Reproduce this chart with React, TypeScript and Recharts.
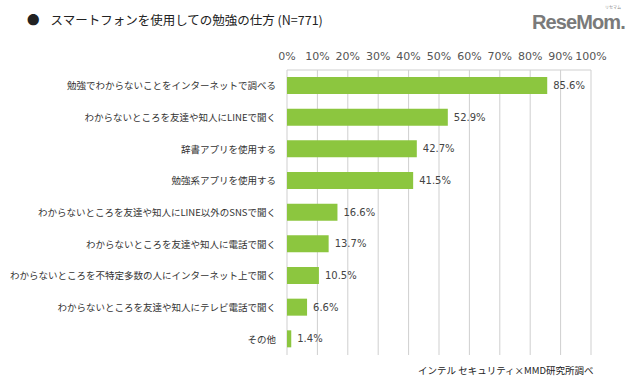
import { Bar, BarChart, CartesianGrid, LabelList, XAxis, YAxis } from 'recharts'

const categories = [
  '勉強でわからないことをインターネットで調べる',
  'わからないところを友達や知人にLINEで聞く',
  '辞書アプリを使用する',
  '勉強系アプリを使用する',
  'わからないところを友達や知人にLINE以外のSNSで聞く',
  'わからないところを友達や知人に電話で聞く',
  'わからないところを不特定多数の人にインターネット上で聞く',
  'わからないところを友達や知人にテレビ電話で聞く',
  'その他',
]
const shares = [85.6, 52.9, 42.7, 41.5, 16.6, 13.7, 10.5, 6.6, 1.4]
const xTicks = [0, 10, 20, 30, 40, 50, 60, 70, 80, 90, 100]

const title = 'スマートフォンを使用しての勉強の仕方 (N=771)'
const source = 'インテル セキュリティ×MMD研究所調べ'

const data = categories.map((name, i) => ({ name, value: shares[i] }))

const jp = '"Noto Sans CJK JP", sans-serif'
const num = '"DejaVu Sans", sans-serif'

export default function App() {
  return (
    <div style={{ position: 'absolute', left: 0, top: 0, width: 640, height: 383, background: '#fff' }}>
      <div style={{ position: 'absolute', left: 27, top: 10, fontFamily: jp, fontSize: 12.5, color: '#222', whiteSpace: 'nowrap' }}>
        <span style={{ marginRight: 11 }}>●</span>
        {title}
      </div>
      <div
        style={{
          position: 'absolute',
          left: 532,
          top: 11,
          fontFamily: '"Liberation Sans", sans-serif',
          fontWeight: 700,
          fontSize: 20,
          lineHeight: '23px',
          color: '#7a7a7a',
          letterSpacing: -0.9,
          whiteSpace: 'nowrap',
        }}
      >
        ReseMom.
      </div>
      <div style={{ position: 'absolute', left: 605, top: 5, fontFamily: jp, fontSize: 4, lineHeight: '5px', color: '#888' }}>
        リセマム
      </div>
      <BarChart
        width={640}
        height={383}
        data={data}
        layout="vertical"
        margin={{ top: 50, right: 49, bottom: 28, left: 0 }}
        barSize={17}
      >
        <CartesianGrid horizontal={false} stroke="#cfcfcf" />
        <XAxis
          type="number"
          orientation="top"
          domain={[0, 100]}
          ticks={xTicks}
          tickFormatter={(v: number) => `${v}%`}
          height={20}
          tickSize={0}
          tickMargin={10}
          axisLine={{ stroke: '#cfcfcf' }}
          tick={{ fontFamily: num, fontSize: 11, fill: '#555' }}
          interval={0}
        />
        <XAxis
          xAxisId="bottom"
          type="number"
          orientation="bottom"
          domain={[0, 100]}
          height={0}
          tick={false}
          tickLine={false}
          axisLine={{ stroke: '#cfcfcf' }}
        />
        <YAxis
          type="category"
          dataKey="name"
          width={287}
          tickSize={0}
          tickMargin={11}
          axisLine={false}
          interval={0}
          tick={{ fontFamily: jp, fontSize: 9.5, fill: '#333' }}
        />
        <Bar dataKey="value" fill="#8cc63f" isAnimationActive={false}>
          <LabelList
            dataKey="value"
            position="right"
            offset={6}
            formatter={(v: number) => `${v.toFixed(1)}%`}
            style={{ fontFamily: num, fontSize: 10, fill: '#444' }}
          />
        </Bar>
      </BarChart>
      <div style={{ position: 'absolute', left: 418, top: 363, fontFamily: jp, fontSize: 9.5, color: '#222', whiteSpace: 'nowrap' }}>
        {source}
      </div>
    </div>
  )
}
